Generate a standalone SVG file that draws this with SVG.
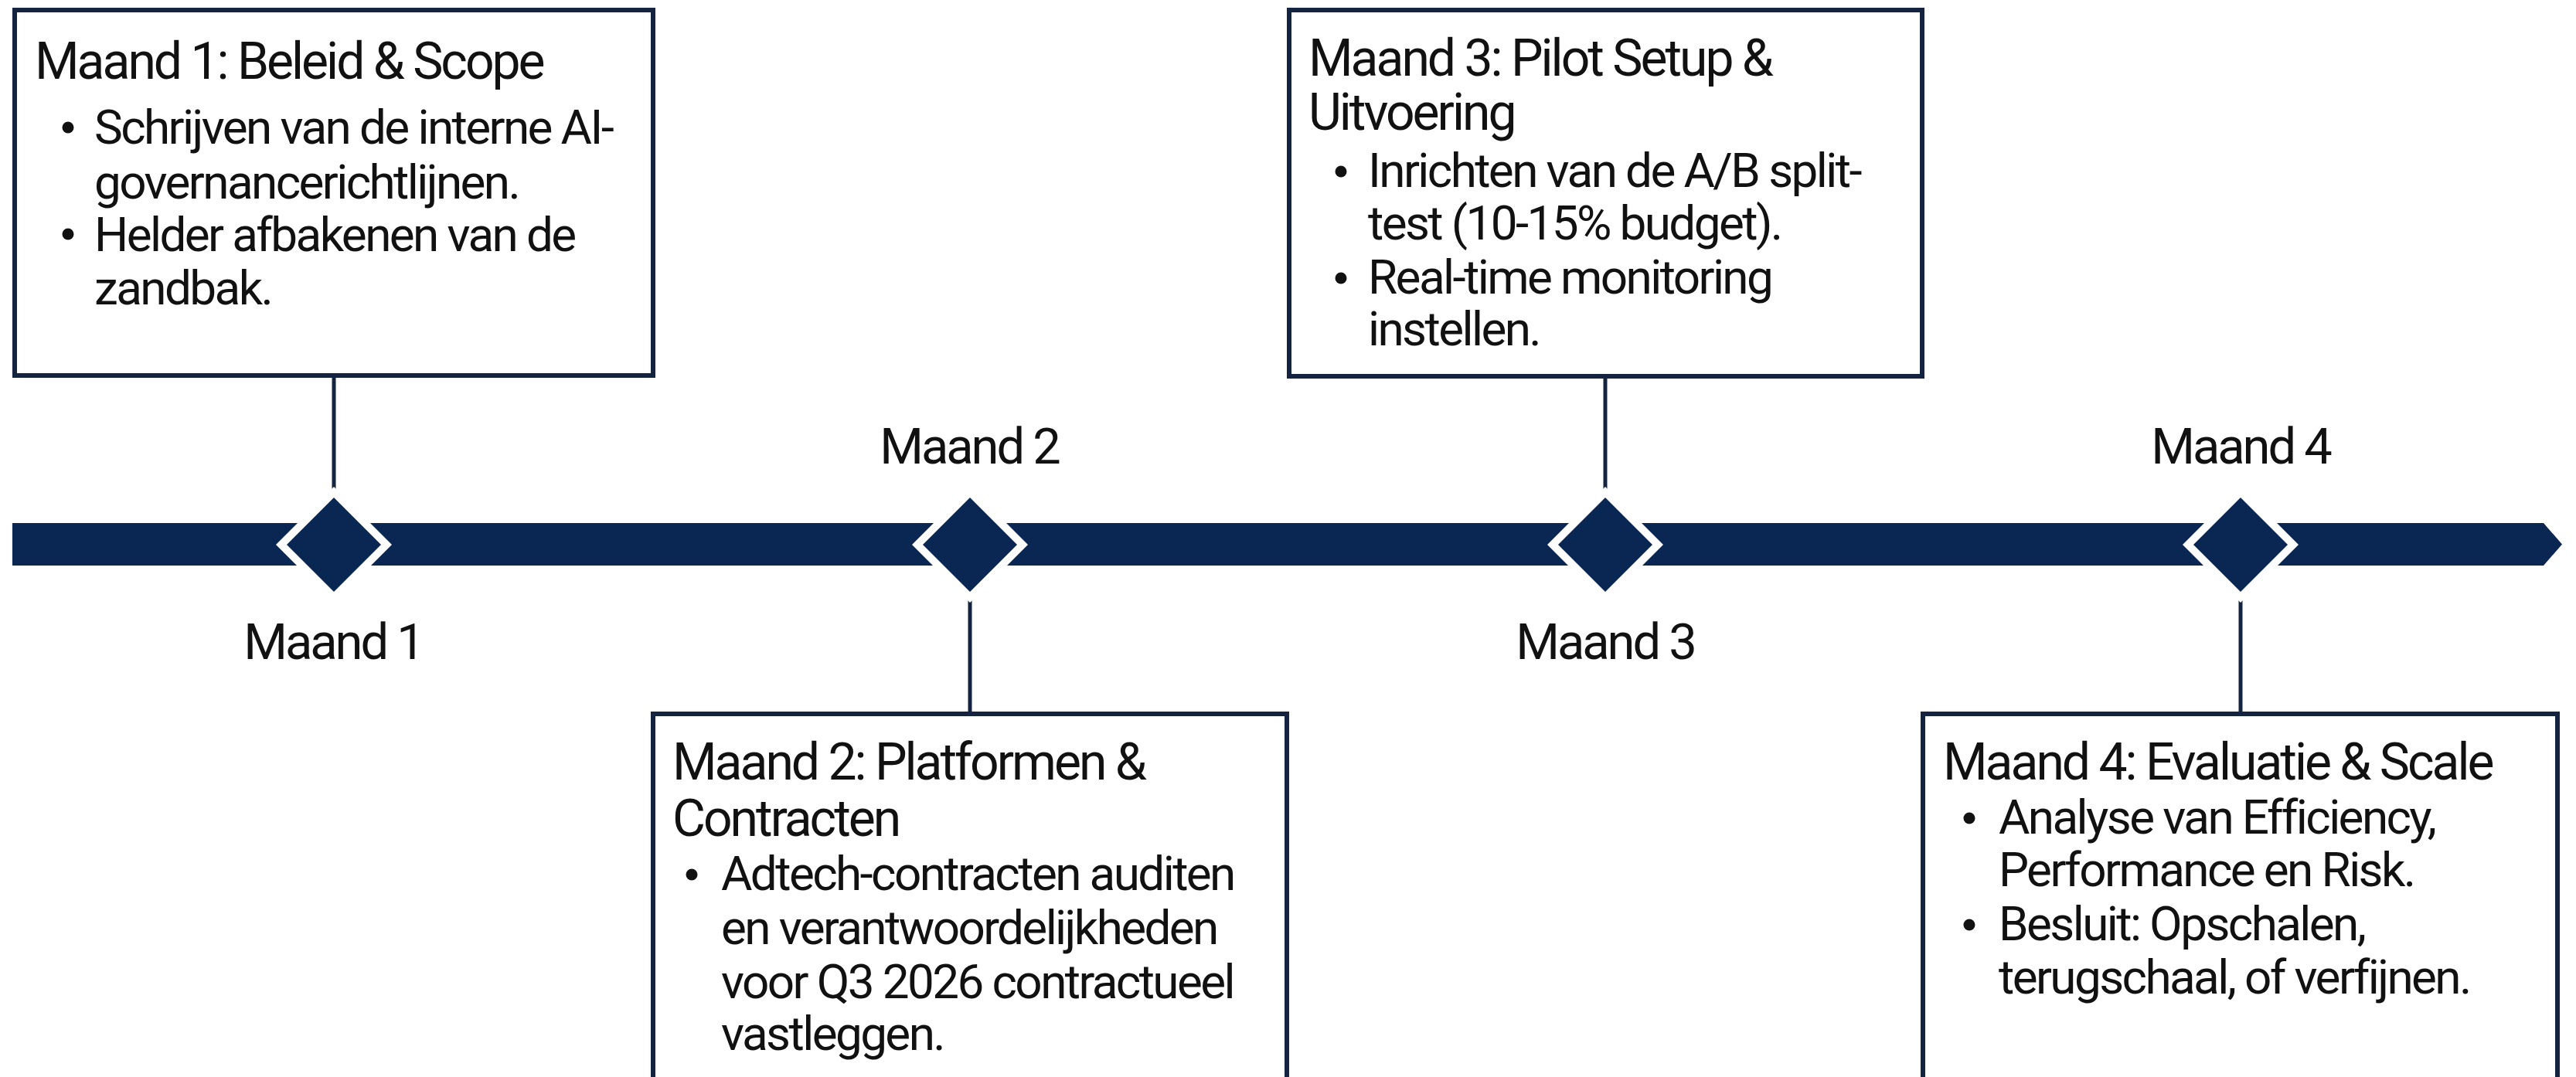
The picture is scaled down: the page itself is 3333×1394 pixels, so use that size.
<svg xmlns="http://www.w3.org/2000/svg" width="3333" height="1394" viewBox="0 0 3333 1394">
<style>
  .box { fill: #ffffff; stroke: #14233f; stroke-width: 6; }
  .conn { stroke: #14233f; stroke-width: 5; fill: none; }
  .bar { fill: #0a2753; }
  .halo { fill: #ffffff; }
  .dia { fill: #0a2753; }
  .t { font-family: Roboto, "Liberation Sans", sans-serif; fill: #111111; }
  .title { font-size: 66px; letter-spacing: -3px; }
  .item { font-size: 62px; letter-spacing: -2.6px; }
  .lbl { font-size: 65px; letter-spacing: -3px; text-anchor: middle; }
  .dot { fill: #111111; }
</style>
<rect x="0" y="0" width="3333" height="1394" fill="#ffffff"/>

<g id="timeline">
  <polygon class="bar" points="16,677 3291,677 3315,704.5 3291,732 16,732"/>
</g>

<g id="connectors">
  <line class="conn" x1="432" y1="488" x2="432" y2="636"/>
  <line class="conn" x1="1255" y1="774" x2="1255" y2="922"/>
  <line class="conn" x1="2077" y1="490" x2="2077" y2="636"/>
  <line class="conn" x1="2899" y1="774" x2="2899" y2="922"/>
</g>

<g id="milestone1">
  <polygon class="halo" points="432,630 507,705 432,780 357,705"/>
  <polygon class="dia" points="432,644 493,705 432,766 371,705"/>
  <text class="t lbl" x="431" y="853">Maand 1</text>
</g>
<g id="milestone2">
  <polygon class="halo" points="1255,630 1330,705 1255,780 1180,705"/>
  <polygon class="dia" points="1255,644 1316,705 1255,766 1194,705"/>
  <text class="t lbl" x="1254" y="600">Maand 2</text>
</g>
<g id="milestone3">
  <polygon class="halo" points="2077,630 2152,705 2077,780 2002,705"/>
  <polygon class="dia" points="2077,644 2138,705 2077,766 2016,705"/>
  <text class="t lbl" x="2077" y="853">Maand 3</text>
</g>
<g id="milestone4">
  <polygon class="halo" points="2899,630 2974,705 2899,780 2824,705"/>
  <polygon class="dia" points="2899,644 2960,705 2899,766 2838,705"/>
  <text class="t lbl" x="2899" y="600">Maand 4</text>
</g>

<g id="box1">
  <rect class="box" x="19" y="13" width="826" height="473"/>
  <text class="t title" x="45" y="102">Maand 1: Beleid &amp; Scope</text>
  <circle class="dot" cx="88" cy="165" r="7.5"/>
  <text class="t item" x="122" y="186">Schrijven van de interne AI-</text>
  <text class="t item" x="122" y="257">governancerichtlijnen.</text>
  <circle class="dot" cx="88" cy="303" r="7.5"/>
  <text class="t item" x="122" y="325">Helder afbakenen van de</text>
  <text class="t item" x="122" y="394">zandbak.</text>
</g>

<g id="box2">
  <rect class="box" x="845" y="924" width="820" height="500"/>
  <text class="t title" x="870" y="1009">Maand 2: Platformen &amp;</text>
  <text class="t title" x="870" y="1082">Contracten</text>
  <circle class="dot" cx="895" cy="1132" r="7.5"/>
  <text class="t item" x="933" y="1152">Adtech-contracten auditen</text>
  <text class="t item" x="933" y="1222">en verantwoordelijkheden</text>
  <text class="t item" x="933" y="1292">voor Q3 2026 contractueel</text>
  <text class="t item" x="933" y="1359">vastleggen.</text>
</g>

<g id="box3">
  <rect class="box" x="1668" y="13" width="819" height="474"/>
  <text class="t title" x="1693" y="98">Maand 3: Pilot Setup &amp;</text>
  <text class="t title" x="1693" y="168">Uitvoering</text>
  <circle class="dot" cx="1735" cy="222" r="7.5"/>
  <text class="t item" x="1770" y="242">Inrichten van de A/B split-</text>
  <text class="t item" x="1770" y="310">test (10-15% budget).</text>
  <circle class="dot" cx="1735" cy="360" r="7.5"/>
  <text class="t item" x="1770" y="380">Real-time monitoring</text>
  <text class="t item" x="1770" y="447">instellen.</text>
</g>

<g id="box4">
  <rect class="box" x="2488" y="924" width="821" height="500"/>
  <text class="t title" x="2514" y="1009">Maand 4: Evaluatie &amp; Scale</text>
  <circle class="dot" cx="2548" cy="1059" r="7.5"/>
  <text class="t item" x="2586" y="1079">Analyse van Efficiency,</text>
  <text class="t item" x="2586" y="1147">Performance en Risk.</text>
  <circle class="dot" cx="2548" cy="1197" r="7.5"/>
  <text class="t item" x="2586" y="1217">Besluit: Opschalen,</text>
  <text class="t item" x="2586" y="1286">terugschaal, of verfijnen.</text>
</g>
</svg>
